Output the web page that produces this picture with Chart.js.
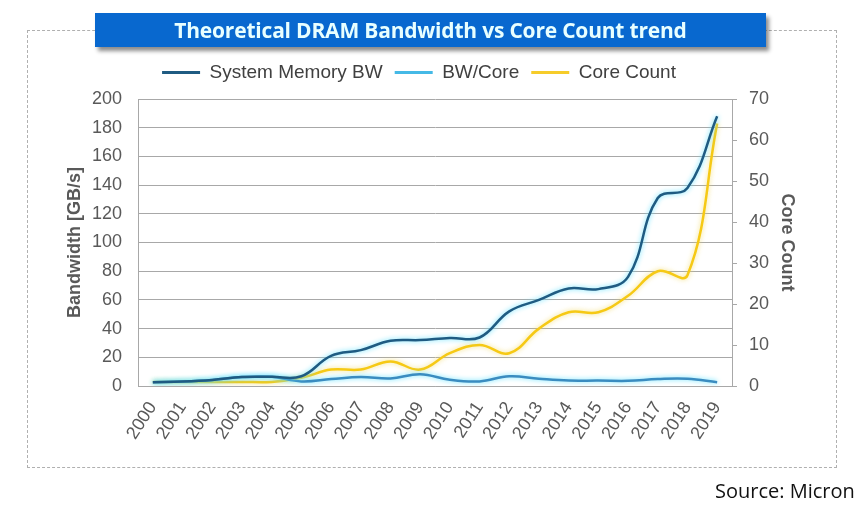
<!DOCTYPE html>
<html><head><meta charset="utf-8">
<script src="https://cdn.jsdelivr.net/npm/chart.js@4.4.1/dist/chart.umd.min.js"></script>
<style>
html,body{margin:0;padding:0;background:#fff;}
#wrap{position:relative;width:867px;height:513px;overflow:hidden;background:#fff;}
#frame{position:absolute;left:27px;top:30px;width:808px;height:436px;border:1px dashed #b0b0b0;}
#title{position:absolute;left:95px;top:13px;width:671px;height:34px;background:#0868cf;box-shadow:3px 4px 4px rgba(0,0,0,0.45);color:#e8ffff;font:bold 21px "Open Sans",sans-serif;text-align:center;line-height:34px;letter-spacing:-0.2px;}
#source{position:absolute;left:715px;top:477px;font:20px "Open Sans",sans-serif;color:#111;}
canvas{position:absolute;left:0;top:0;}
</style></head><body>
<div id="wrap">
<div id="frame"></div>
<canvas id="c" width="867" height="513"></canvas>
<div id="title">Theoretical DRAM Bandwidth vs Core Count trend</div>
<div id="source">Source: Micron</div>
</div>
<script>
const years = ['2000','2001','2002','2003','2004','2005','2006','2007','2008','2009','2010','2011','2012','2013','2014','2015','2016','2017','2018','2019'];
const systemMemoryBW = [2.6, 3.1, 4.2, 6.2, 6.4, 6.8, 21, 25, 31.5, 32, 33.5, 33.8, 52, 60, 68, 67.5, 76, 131, 138, 188];
const bwPerCore = [2.6, 3.1, 4.2, 6.2, 6.4, 3.2, 4.8, 6.3, 5.2, 8.2, 4.3, 3.2, 6.8, 5.1, 3.8, 3.8, 3.6, 4.8, 5.0, 2.6];
const coreCount = [1, 1, 1, 1, 1, 2, 4, 4, 6, 4, 8, 10, 8, 14, 18, 18, 22, 28, 27, 64];
const bwTicks = [0, 200, 20];
const coreTicks = [0, 70, 10];

const lineColors = ['#1f5b82', '#3a8cc0', '#f6c915'];
const legendColors = ['#1f5b82', '#45b9e6', '#f6cc2a'];
const glowColors = ['rgba(95,225,255,0.95)', 'rgba(95,225,255,1)', 'rgba(240,215,90,0.8)'];

const glowPlugin = {
  id: 'glow',
  beforeDatasetDraw(chart, args) {
    const ctx = chart.ctx;
    ctx.save();
    ctx.shadowColor = glowColors[args.index];
    ctx.shadowBlur = 5;
    ctx.shadowOffsetX = 0;
    ctx.shadowOffsetY = 0;
  },
  afterDatasetDraw(chart) { chart.ctx.restore(); }
};

const legendFix = {
  id: 'legendFix',
  beforeLayout(chart) {
    const lg = chart.legend;
    if (lg && !lg._patched) {
      const proto = Object.getPrototypeOf(lg);
      lg.fit = function () { proto.fit.call(this); this.height = 48; };
      lg._patched = true;
    }
  }
};

const tickFont = { family: '"Liberation Sans", Arial, sans-serif', size: 18 };
const gridColor = '#a8a8a8';

new Chart(document.getElementById('c'), {
  type: 'line',
  data: {
    labels: years,
    datasets: [
      { label: 'System Memory BW', data: systemMemoryBW, yAxisID: 'y', borderColor: lineColors[0], backgroundColor: lineColors[0], borderWidth: 2.5, tension: 0.4, pointRadius: 0, fill: false },
      { label: 'BW/Core', data: bwPerCore, yAxisID: 'y', borderColor: lineColors[1], backgroundColor: lineColors[1], borderWidth: 2.5, tension: 0.4, pointRadius: 0, fill: false },
      { label: 'Core Count', data: coreCount, yAxisID: 'y1', borderColor: lineColors[2], backgroundColor: lineColors[2], borderWidth: 2.5, tension: 0.4, pointRadius: 0, fill: false }
    ]
  },
  options: {
    responsive: false,
    animation: false,
    devicePixelRatio: 1,
    layout: { padding: { left: 38, right: 67, top: 51, bottom: 52 } },
    plugins: {
      tooltip: { enabled: false },
      legend: {
        position: 'top',
        labels: {
          boxWidth: 38,
          boxHeight: 3,
          padding: 12,
          color: '#404040',
          font: { family: '"Liberation Sans", Arial, sans-serif', size: 19 },
          generateLabels(chart) {
            return chart.data.datasets.map((ds, i) => ({
              text: ds.label, fillStyle: legendColors[i], strokeStyle: legendColors[i],
              lineWidth: 0, hidden: false, datasetIndex: i, fontColor: '#404040'
            }));
          }
        }
      }
    },
    scales: {
      x: {
        type: 'category',
        offset: true,
        grid: { display: false, drawTicks: false },
        border: { display: true, color: gridColor },
        ticks: { color: '#595959', font: tickFont, minRotation: 57, maxRotation: 57, padding: 12, autoSkip: false },
        afterFit(s) { s.height = 75; }
      },
      y: {
        position: 'left',
        min: bwTicks[0], max: bwTicks[1],
        ticks: { stepSize: bwTicks[2], color: '#595959', font: tickFont, padding: 16 },
        grid: { color: gridColor, drawTicks: false },
        border: { display: true, color: gridColor },
        title: { display: true, text: 'Bandwidth [GB/s]', color: '#595959', font: { family: '"Liberation Sans", Arial, sans-serif', size: 18, weight: 'bold' }, padding: { top: 26, bottom: 0 } },
        afterFit(s) { s.width = 100; }
      },
      y1: {
        position: 'right',
        min: coreTicks[0], max: coreTicks[1],
        ticks: { stepSize: coreTicks[2], color: '#595959', font: tickFont, padding: 12 },
        grid: { drawOnChartArea: false, drawTicks: true, tickLength: 5, color: gridColor },
        border: { display: true, color: gridColor },
        title: { display: true, text: 'Core Count', color: '#595959', font: { family: '"Liberation Sans", Arial, sans-serif', size: 18, weight: 'bold' }, padding: { top: 2, bottom: 0 } },
        afterFit(s) { s.width = 68; }
      }
    }
  },
  plugins: [glowPlugin, legendFix]
});
</script>
</body></html>
